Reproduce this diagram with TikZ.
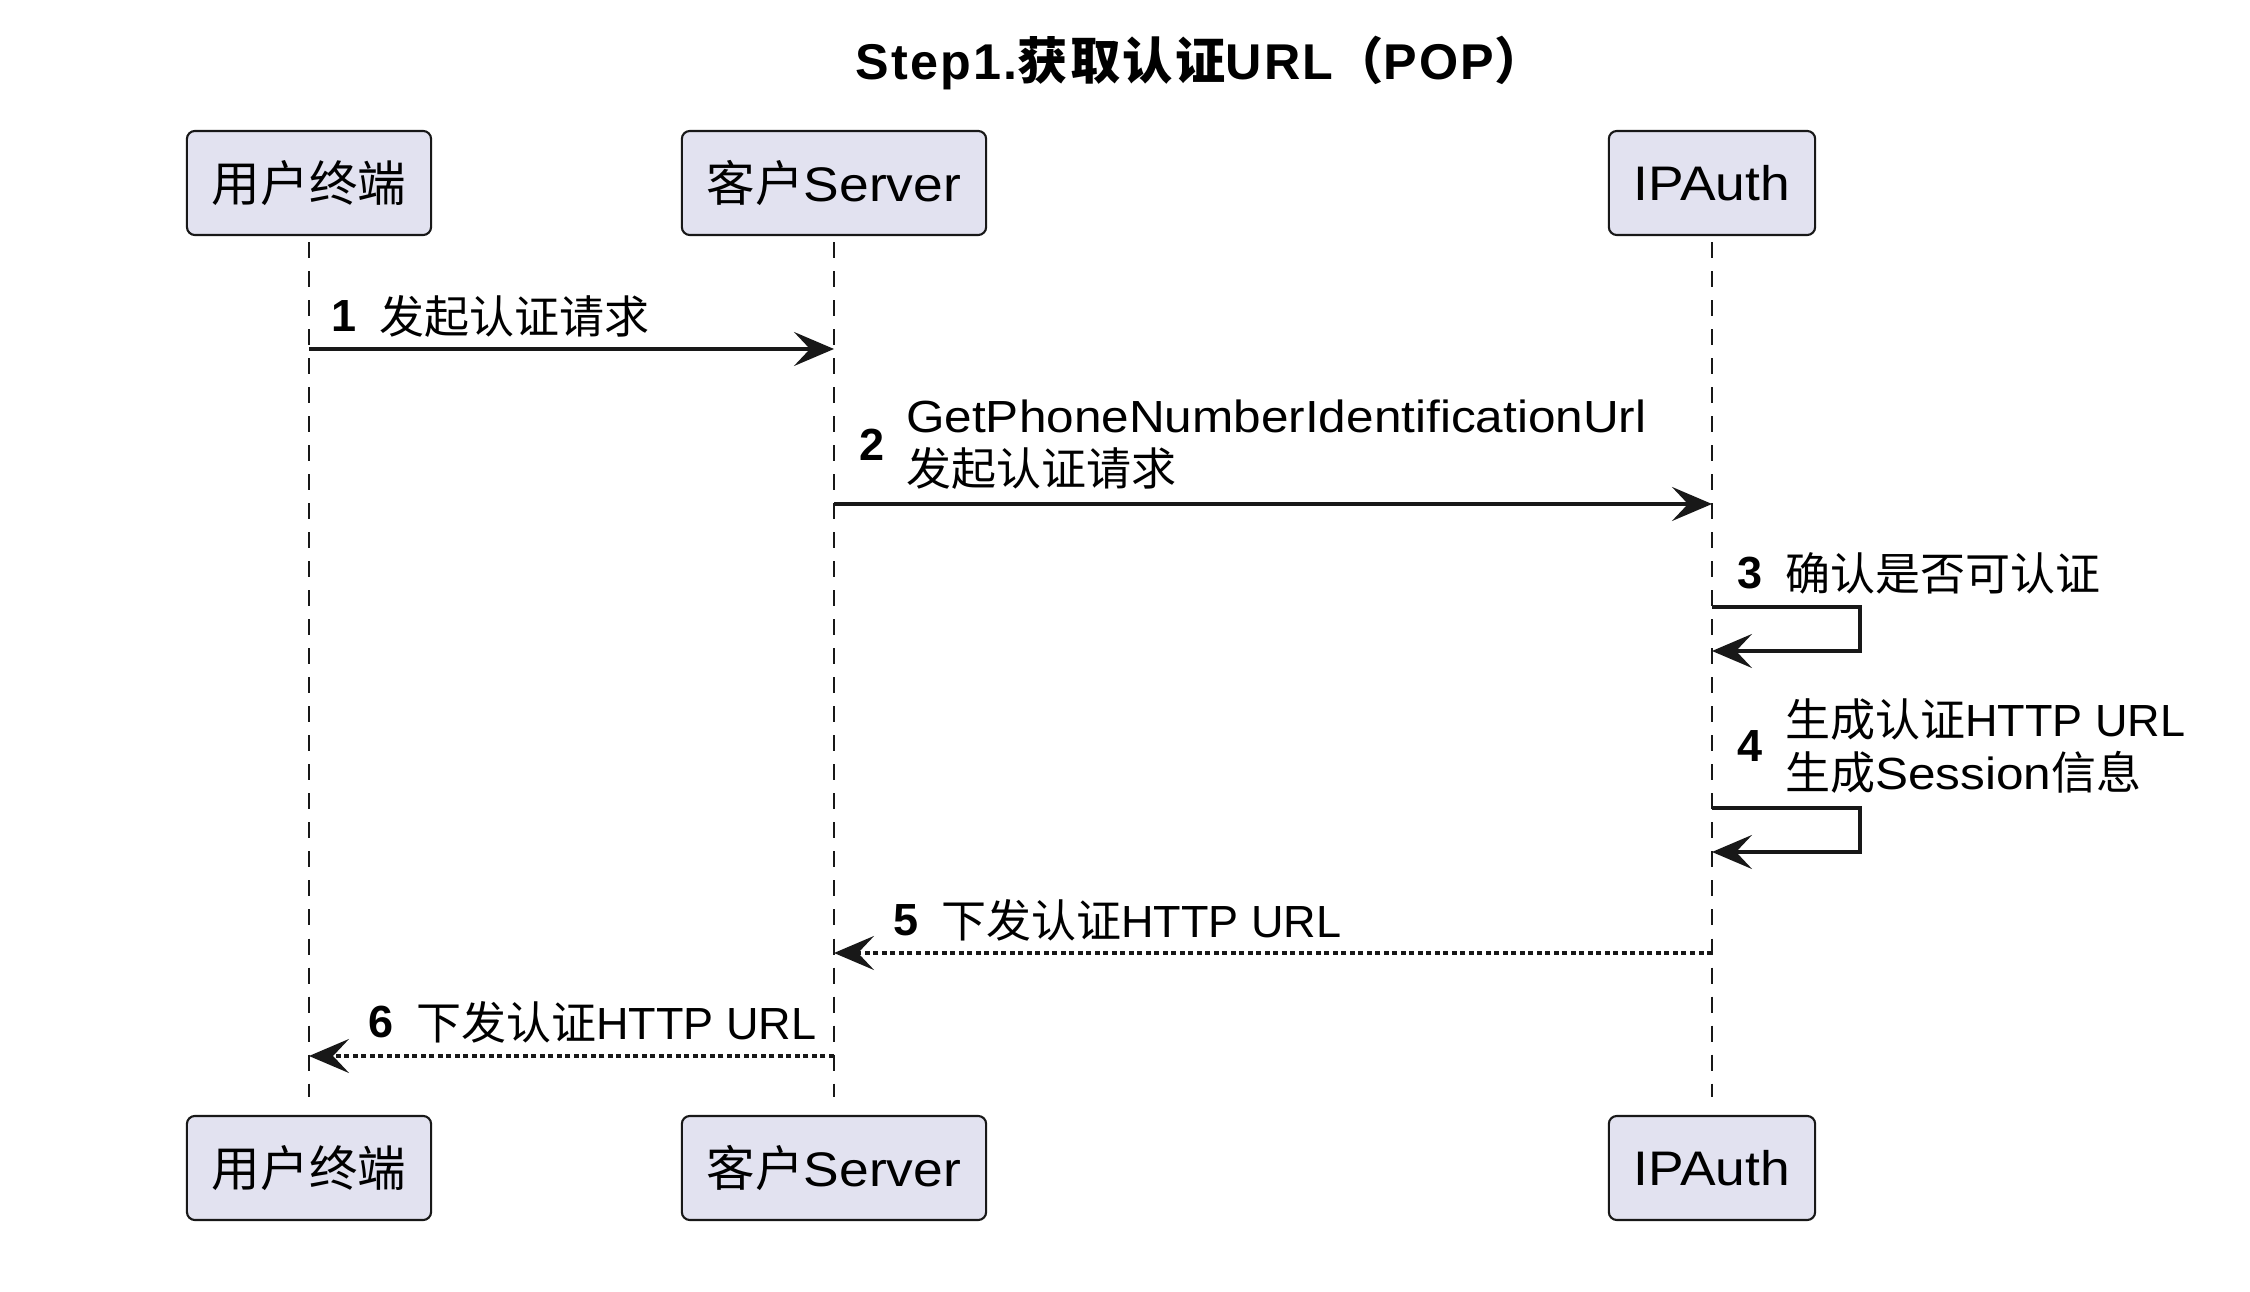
\documentclass[tikz,border=0pt]{standalone}
\usepackage{fontspec}
\setmainfont{Liberation Sans}
\newfontfamily\cjk{Noto Sans CJK SC}
\newfontfamily\lat{Liberation Sans}[FakeStretch=1.1]
\newfontfamily\ttllat{Liberation Sans}[LetterSpace=4.5]
\newfontfamily\ttlcjk{Noto Sans CJK SC}[LetterSpace=4.5]
\usetikzlibrary{arrows.meta,positioning}

\definecolor{boxfill}{HTML}{E2E2F0}
\definecolor{ink}{HTML}{181818}

\tikzset{
  actor/.style={draw=ink, fill=boxfill, line width=0.6pt, rounded corners=0.08cm,
    minimum height=1.04cm, inner xsep=0.25cm, text=black,
    font=\fontsize{13.8}{16}\selectfont},
  lifeline/.style={draw=ink, line width=0.45pt, dash pattern=on 0.16cm off 0.13cm},
  msg/.style={draw=ink, line width=1pt, ->},
  reply/.style={draw=ink, line width=1pt, ->, dash pattern=on 0.05cm off 0.035cm},
  num/.style={inner sep=0, anchor=west, font=\fontsize{12.8}{15}\bfseries},
  msgtext/.style={inner sep=0, align=left, font=\fontsize{12.8}{15}\selectfont},
  title/.style={inner sep=0, font=\fontsize{14.3}{17}\bfseries}
}

\begin{document}
\begin{tikzpicture}[x=0.01cm, y=-0.01cm, >={Stealth[length=0.4cm, width=0.34cm, inset=0.16cm]}]
		% Canvas size in pixels of the original (1px = 0.01cm)
		\useasboundingbox (0,0) rectangle (2250,1292);
		
		% Lifeline positions
		\def\xu{309}   % user terminal
		\def\xs{834}   % customer server
		\def\xa{1712}  % IPAuth
		\def\loop{148} % width of the self messages
		
		% Title
		\node[title] (ttl) at (1200,63) {\ttllat Step1.{\ttlcjk 获取认证}URL{\ttlcjk （}POP{\ttlcjk ）}};
		
		% Participant boxes, top and bottom
		\node[actor] (ut) at (\xu,183) {\cjk 用户终端};
		\node[actor] (st) at (\xs,183) {{\cjk 客户}{\lat Server}};
		\node[actor] (at) at (\xa,183) {\lat IPAuth};
		\node[actor] (ub) at (\xu,1168) {\cjk 用户终端};
		\node[actor] (sb) at (\xs,1168) {{\cjk 客户}{\lat Server}};
		\node[actor] (ab) at (\xa,1168) {\lat IPAuth};
		
		% Lifelines
		\draw[lifeline, shorten <=0.06cm, shorten >=0.18cm] (ut) -- (ub);
		\draw[lifeline, shorten <=0.06cm, shorten >=0.18cm] (st) -- (sb);
		\draw[lifeline, shorten <=0.06cm, shorten >=0.18cm] (at) -- (ab);
		
		% Message levels
		\coordinate (m1) at (0,349);
		\coordinate (m2) at (0,504);
		\coordinate (m3a) at (0,607);
		\coordinate (m3b) at (0,651);
		\coordinate (m4a) at (0,808);
		\coordinate (m4b) at (0,852);
		\coordinate (m5) at (0,953);
		\coordinate (m6) at (0,1056);
		
		% Messages
		\draw[msg] (ut |- m1) -- (st |- m1);
		\draw[msg] (st |- m2) -- (at |- m2);
		\draw[msg] (at |- m3a) -- ++(\loop,0) |- (at |- m3b);
		\draw[msg] (at |- m4a) -- ++(\loop,0) |- (at |- m4b);
		\draw[reply] (at |- m5) -- (st |- m5);
		\draw[reply] (st |- m6) -- (ut |- m6);
		
		% Message labels
		\node[num] (n1) at (331,316) {1};
		\node[msgtext, right=0.21cm of n1] (t1) {\cjk 发起认证请求};
		
		\node[num] (n2) at (859,445) {2};
		\node[msgtext, right=0.2cm of n2] (t2) {{\lat GetPhoneNumberIdentificationUrl}\\{\cjk 发起认证请求}};
		
		\node[num] (n3) at (1737,573) {3};
		\node[msgtext, right=0.21cm of n3] (t3) {\cjk 确认是否可认证};
		
		\node[num] (n4) at (1737,746) {4};
		\node[msgtext, right=0.21cm of n4] (t4) {{\cjk 生成认证}HTTP URL\\{\cjk 生成}{\lat Session}{\cjk 信息}};
		
		\node[num] (n5) at (893,920) {5};
		\node[msgtext, right=0.21cm of n5] (t5) {{\cjk 下发认证}HTTP URL};
		
		\node[num] (n6) at (368,1022) {6};
		\node[msgtext, right=0.21cm of n6] (t6) {{\cjk 下发认证}HTTP URL};
	\end{tikzpicture}
\end{document}
